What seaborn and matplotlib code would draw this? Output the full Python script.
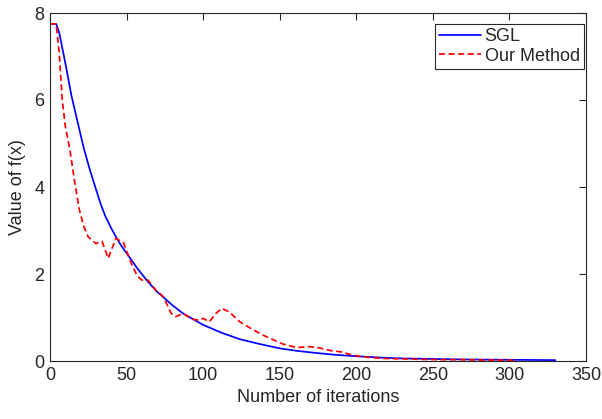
import numpy as np
import pandas as pd
import matplotlib
matplotlib.use("Agg")
import matplotlib.pyplot as plt
import seaborn as sns

# SGL curve
sgl_x = [0, 4, 6, 8, 10, 14, 18, 22, 26, 30, 33, 36, 40, 43, 46, 50, 57, 64, 70, 80, 87, 100,
         112, 124, 137, 150, 162, 175, 187, 200, 215, 229, 245, 260, 275, 290, 310, 330]
sgl_y = [7.75, 7.75, 7.55, 7.2, 6.85, 6.1, 5.5, 4.9, 4.4, 3.95, 3.62, 3.34, 3.05, 2.86, 2.68,
         2.48, 2.13, 1.82, 1.59, 1.28, 1.09, 0.83, 0.65, 0.50, 0.39, 0.29, 0.23, 0.18,
         0.14, 0.11, 0.08, 0.06, 0.05, 0.04, 0.035, 0.03, 0.025, 0.02]

# Our Method curve
our_x = [0, 4, 6, 8, 10, 13, 16, 19, 22, 25, 30, 34, 38, 43, 48, 53, 57, 60, 64, 69,
         74, 79, 82, 87, 93, 97, 100, 104, 108, 112, 117, 124, 133, 140, 145, 152, 161,
         170, 176, 183, 190, 195, 203, 210, 216, 229, 240, 255, 270, 285, 305]
our_y = [7.75, 7.75, 7.1, 6.0, 5.4, 4.85, 4.15, 3.5, 3.1, 2.85, 2.70, 2.75, 2.36,
         2.82, 2.72, 2.25, 1.95, 1.86, 1.86, 1.63, 1.48, 1.10, 1.02, 1.09, 0.96, 0.94,
         0.98, 0.90, 1.08, 1.21, 1.13, 0.90, 0.71, 0.58, 0.50, 0.39, 0.31, 0.33, 0.30,
         0.24, 0.21, 0.16, 0.10, 0.08, 0.06, 0.05, 0.04, 0.03, 0.03, 0.02, 0.02]

x_ticks = [0, 50, 100, 150, 200, 250, 300, 350]
y_ticks = [0, 2, 4, 6, 8]

sns.set_style("white")
plt.rcParams['font.family'] = ['Liberation Sans', 'DejaVu Sans']
plt.rcParams['xtick.direction'] = 'in'
plt.rcParams['ytick.direction'] = 'in'

df = pd.concat([
    pd.DataFrame({"it": sgl_x, "val": sgl_y, "method": "SGL"}),
    pd.DataFrame({"it": our_x, "val": our_y, "method": "Our Method"}),
])

fig = plt.figure(figsize=(6.02, 4.19), dpi=100)
ax = fig.add_axes([50/602, 1-361/419, 536/602, 348/419])

sns.lineplot(data=df, x="it", y="val", hue="method", style="method",
             palette={"SGL": "#0000ff", "Our Method": "#ff0000"},
             dashes={"SGL": "", "Our Method": (3.5, 2)},
             linewidth=1.25, ax=ax, sort=False, estimator=None)

ax.set_xlim(0, 350)
ax.set_ylim(0, 8)
ax.set_xticks(x_ticks)
ax.set_yticks(y_ticks)
tc = "#262626"
ax.tick_params(axis="both", which="both", direction="in", length=5, width=0.8,
               colors=tc, labelsize=13, top=True, right=True, pad=4)
for sp in ax.spines.values():
    sp.set_visible(True)
    sp.set_color(tc)
    sp.set_linewidth(0.8)

ax.set_xlabel("Number of iterations", fontsize=13, color=tc, labelpad=4)
ax.set_ylabel("Value of f(x)", fontsize=13, color=tc, labelpad=6)

leg = ax.legend(loc="upper right", bbox_to_anchor=(1.0, 0.975), fontsize=13,
                frameon=True, fancybox=False, edgecolor=tc, framealpha=1,
                handlelength=2.3, handletextpad=0.2, borderpad=0.25,
                labelspacing=0.15, borderaxespad=0.1)
leg.get_frame().set_linewidth(0.8)
leg.set_title(None)

fig.savefig("out.png", dpi=100)
